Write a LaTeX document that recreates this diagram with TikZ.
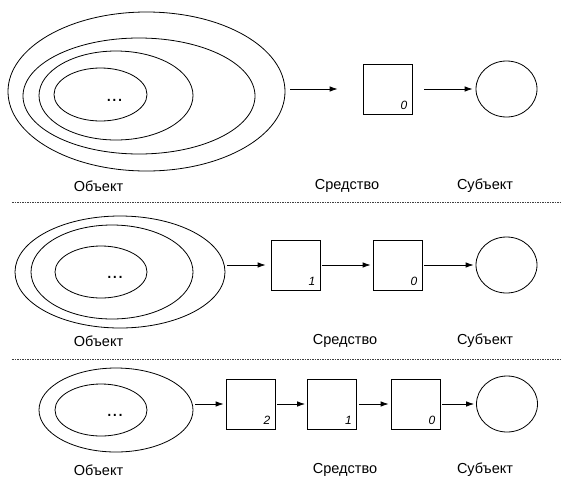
\documentclass[tikz,border=0pt]{standalone}
\usepackage{fontspec}
\setmainfont{Liberation Sans}
\usetikzlibrary{shapes.geometric,arrows.meta,positioning}

\begin{document}
\begin{tikzpicture}[
    x=1pt, y=-1pt,
    layer/.style={ellipse, draw, line width=0.8pt, inner sep=0pt, outer sep=0pt},
    tool/.style={rectangle, draw, line width=0.8pt, minimum width=49pt, minimum height=50pt, inner sep=0pt},
    subj/.style={ellipse, draw, line width=0.8pt, minimum width=61pt, minimum height=56pt, inner sep=0pt},
    idx/.style={anchor=south east, inner sep=5pt, font=\fontsize{12}{12}\selectfont\itshape},
    caption/.style={font=\fontsize{14.5}{16}\selectfont},
    dots/.style={anchor=base, font=\fontsize{20}{20}\selectfont},
    arrow/.style={-{Latex[length=8pt,width=5.5pt]}, line width=0.8pt, shorten <=2pt, shorten >=2pt},
    divider/.style={dash pattern=on 1.5pt off 1pt, line width=0.6pt, black!75}
]
    \useasboundingbox (0,0) rectangle (567,488);

    % first row
    \node[layer, minimum width=277pt, minimum height=159pt] (a1) at (146.5,91.5) {};
    \node[layer, minimum width=232pt, minimum height=116pt] (a2) at (139,96) {};
    \node[layer, minimum width=154pt, minimum height=89pt] (a3) at (116,95.5) {};
    \node[layer, minimum width=93pt, minimum height=53pt] (a4) at (100.5,94.5) {};
    \node[dots] (adots) at (114.5,101) {...};

    \node[tool] (b0) at (387.5,89) {};
    \node[idx] (b0num) at (b0.south east) {0};
    \node[subj] (c1) at (506.5,89) {};

    \draw[arrow, shorten <=5pt, shorten >=25pt] (a1.east |- b0) -- (b0.west);
    \draw[arrow, shorten <=12pt, shorten >=3pt] (b0) -- (c1);

    \node[caption] (obj1) at (98.5,186) {Объект};
    \node[caption] (mid1) at (347,186) {Средство};
    \node[caption] (sub1) at (485,186) {Субъект};

    \draw[divider] (12,202) -- (562,202);

    % second row
    \node[layer, minimum width=210pt, minimum height=112pt] (d1) at (120,272) {};
    \node[layer, minimum width=162pt, minimum height=94pt] (d2) at (112,272) {};
    \node[layer, minimum width=92pt, minimum height=52pt] (d3) at (101,272) {};
    \node[dots] (ddots) at (115,278) {...};

    \node[tool] (e1) at (295.5,265) {};
    \node[idx] (e1num) at (e1.south east) {1};
    \node[tool] (e0) at (397.5,265) {};
    \node[idx] (e0num) at (e0.south east) {0};
    \node[subj] (f1) at (506.5,265) {};

    \draw[arrow, shorten >=5pt] (d1.east |- e1) -- (e1.west);
    \draw[arrow] (e1) -- (e0);
    \draw[arrow] (e0) -- (f1);

    \node[caption] (obj2) at (98.5,341) {Объект};
    \node[caption] (mid2) at (345,341) {Средство};
    \node[caption] (sub2) at (485,341) {Субъект};

    \draw[divider] (12,359) -- (562,359);

    % third row
    \node[layer, minimum width=154pt, minimum height=84pt] (g1) at (116,410) {};
    \node[layer, minimum width=92pt, minimum height=52pt] (g2) at (101,410) {};
    \node[dots] (gdots) at (115,416) {...};

    \node[tool] (h2) at (250.5,404) {};
    \node[idx] (h2num) at (h2.south east) {2};
    \node[tool] (h1) at (332,404) {};
    \node[idx] (h1num) at (h1.south east) {1};
    \node[tool] (h0) at (415.5,404) {};
    \node[idx] (h0num) at (h0.south east) {0};
    \node[subj] (k1) at (507,404) {};

    \draw[arrow] (g1.east |- h2) -- (h2.west);
    \draw[arrow] (h2) -- (h1);
    \draw[arrow] (h1) -- (h0);
    \draw[arrow] (h0) -- (k1);

    \node[caption] (obj3) at (98.5,470) {Объект};
    \node[caption] (mid3) at (345,470) {Средство};
    \node[caption] (sub3) at (485,470) {Субъект};
\end{tikzpicture}
\end{document}
